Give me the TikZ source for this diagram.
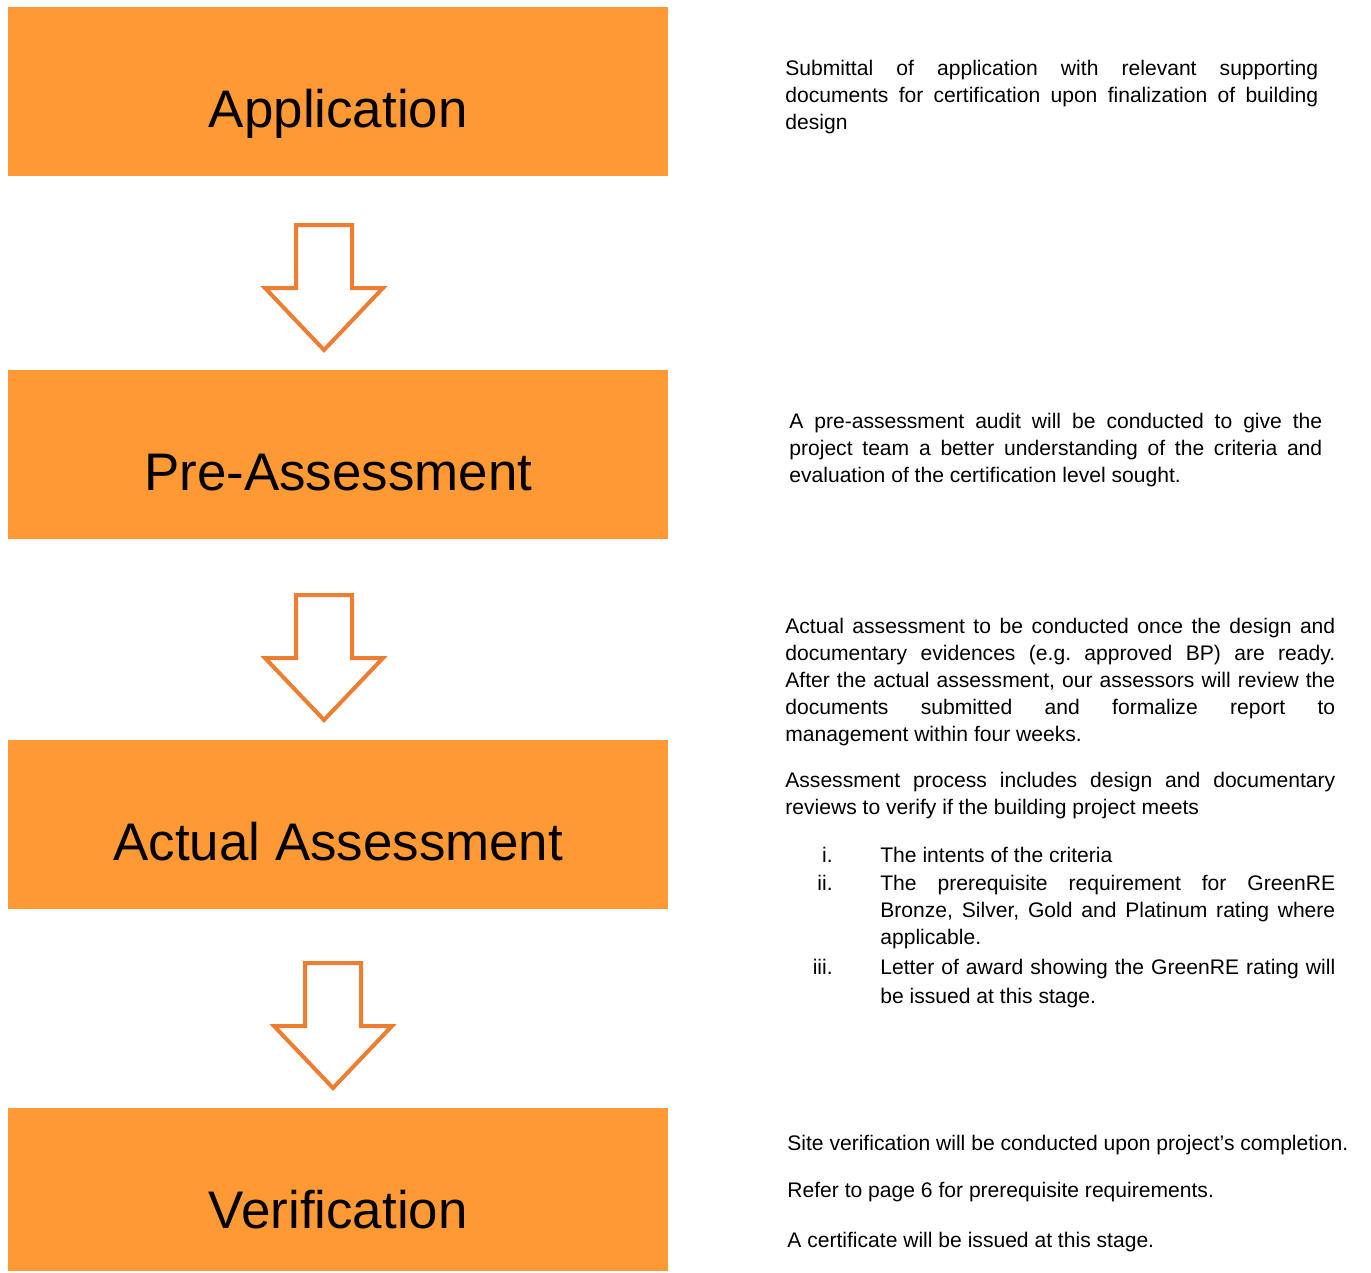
\documentclass[tikz,border=0pt]{standalone}
\usepackage{fontspec}
\setmainfont{Liberation Sans}
\frenchspacing
\definecolor{stagefill}{HTML}{FF9933}
\definecolor{arrowline}{HTML}{ED7D31}
\tikzset{
  stage/.style={fill=stagefill, anchor=north west, inner sep=0pt,
    minimum width=13.2cm, text height=2.4cm, text depth=0.98cm,
    font=\fontsize{30.1}{36}\selectfont},
  desc/.style={anchor=base west, inner sep=0pt, align=justify,
    font=\fontsize{12}{15.4}\selectfont},
  itemno/.style={anchor=base east, inner sep=0pt, font=\fontsize{12}{15.4}\selectfont},
  pics/downarrow/.style={code={
    \draw[arrowline, line width=0.08cm, fill=white]
      (-28,0) -- (28,0) -- (28,63) -- (59,63) -- (0,125) -- (-59,63) -- (-28,63) -- cycle;
  }}
}
\begin{document}
\begin{tikzpicture}[x=0.02cm, y=-0.02cm]
  \useasboundingbox (0,0) rectangle (1371,1272);

  % stages
  \node[stage] (app) at (8,7) {Application};
  \node[stage] (pre) at (8,370) {Pre-Assessment};
  \node[stage] (act) at (8,740) {Actual Assessment};
  \node[stage, text depth=0.86cm] (ver) at (8,1108) {Verification};

  % arrows between stages
  \coordinate (a1) at (324,225);
  \coordinate (a2) at (324,595);
  \coordinate (a3) at (333,963);
  \pic at (a1) {downarrow};
  \pic at (a2) {downarrow};
  \pic at (a3) {downarrow};

  % descriptions
  \node[desc, text width=10.66cm] (appdesc) at (785,75.5)
    {Submittal of application with relevant supporting\linebreak
     documents for certification upon finalization of building\linebreak
     design};
  \node[desc, text width=10.66cm] (predesc) at (789,428.5)
    {A pre-assessment audit will be conducted to give the\linebreak
     project team a better understanding of the criteria and\linebreak
     evaluation of the certification level sought.};
  \node[desc, text width=11cm] (actdesc) at (785,633.5)
    {Actual assessment to be conducted once the design and\linebreak
     documentary evidences (e.g. approved BP) are ready.\linebreak
     After the actual assessment, our assessors will review the\linebreak
     documents submitted and formalize report to\linebreak
     management within four weeks.};
  \node[desc, text width=11cm] (actproc) at (785,787.5)
    {Assessment process includes design and documentary\linebreak
     reviews to verify if the building project meets};

  % list of checks
  \node[itemno] (n1) at (833,862.5) {i.};
  \node[itemno] (n2) at (833,890.5) {ii.};
  \node[itemno] (n3) at (833,974.5) {iii.};
  \node[desc, text width=9.1cm] (i1) at (880,862.5) {The intents of the criteria};
  \node[desc, text width=9.1cm] (i2) at (880,890.5)
    {The prerequisite requirement for GreenRE\linebreak
     Bronze, Silver, Gold and Platinum rating where\linebreak
     applicable.};
  \node[desc, text width=9.1cm, font=\fontsize{12}{16.4}\selectfont] (i3) at (880,974.5)
    {Letter of award showing the GreenRE rating will\linebreak
     be issued at this stage.};

  \node[desc, align=left] (verdesc1) at (787,1150.5) {Site verification will be conducted upon project’s completion.};
  \node[desc, align=left] (verdesc2) at (787,1197.5) {Refer to page 6 for prerequisite requirements.};
  \node[desc, align=left] (verdesc3) at (787,1247.5) {A certificate will be issued at this stage.};
\end{tikzpicture}
\end{document}
